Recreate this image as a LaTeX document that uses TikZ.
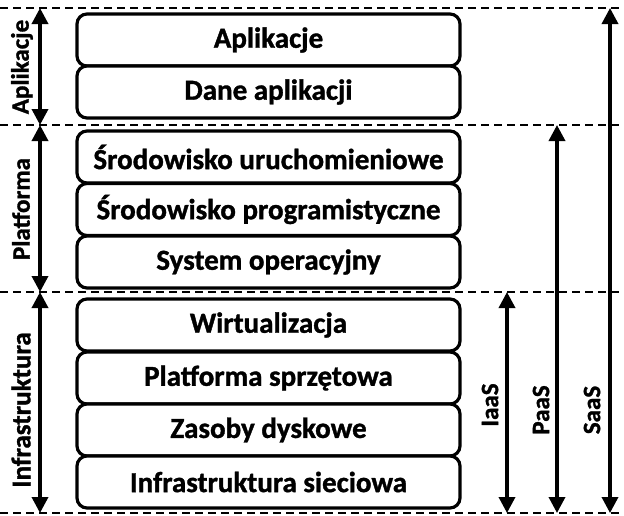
\documentclass[tikz,border=0pt]{standalone}
\usepackage{fontspec}
\setmainfont{Carlito}[BoldFeatures={FakeBold=1.2}]
\usetikzlibrary{arrows.meta}
\begin{document}
\begin{tikzpicture}[x=1pt,y=-1pt,
  layer/.style={draw=black,line width=3.2pt,rounded corners=10pt,fill=white,
    minimum width=383pt,minimum height=52pt,inner sep=0pt,
    font=\fontsize{29}{31}\selectfont\bfseries},
  sep/.style={line width=2pt,dash pattern=on 8pt off 5pt},
  span/.style={line width=3.5pt,{Triangle[length=16pt,width=16pt]}-{Triangle[length=16pt,width=16pt]}},
  tag/.style={rotate=90,font=\fontsize{27}{29}\selectfont\bfseries,inner sep=0pt},
  model/.style={rotate=90,font=\fontsize{25}{27}\selectfont\bfseries,inner sep=0pt}]
\useasboundingbox (0,0) rectangle (624,515);
% level separators
\coordinate (t0l) at (0,8);   \coordinate (t0r) at (624,8);
\coordinate (t1l) at (0,125); \coordinate (t1r) at (624,125);
\coordinate (t2l) at (0,292); \coordinate (t2r) at (624,292);
\coordinate (t3l) at (0,513); \coordinate (t3r) at (624,513);
\foreach \a/\b in {t0l/t0r,t1l/t1r,t2l/t2r,t3l/t3r} \draw[sep] (\a) -- (\b);
% stack of layers
\node[layer] (l1) at (268.5,40) {Aplikacje};
\node[layer] (l2) at (268.5,92) {Dane aplikacji};
\node[layer] (l3) at (268.5,157) {Środowisko uruchomieniowe};
\node[layer] (l4) at (268.5,209.5) {Środowisko programistyczne};
\node[layer] (l5) at (268.5,262) {System operacyjny};
\node[layer] (l6) at (268.5,325) {Wirtualizacja};
\node[layer] (l7) at (268.5,378) {Platforma sprzętowa};
\node[layer] (l8) at (268.5,430) {Zasoby dyskowe};
\node[layer] (l9) at (268.5,482) {Infrastruktura sieciowa};
% left-hand level markers
\coordinate (a0) at (40,8);   \coordinate (a1) at (40,125);
\coordinate (a2) at (40,292); \coordinate (a3) at (40,513);
\draw[span] (a0) -- (a1);
\draw[span] (a1) -- (a2);
\draw[span] (a2) -- (a3);
\node[tag,font=\fontsize{25}{27}\selectfont\bfseries] (n1) at (22,67) {Aplikacje};
\node[tag,font=\fontsize{25}{27}\selectfont\bfseries] (n2) at (21,209) {Platforma};
\node[tag] (n3) at (21,410) {Infrastruktura};
% service models on the right
\coordinate (i0) at (507,292); \coordinate (i1) at (507,513);
\coordinate (p0) at (557,125); \coordinate (p1) at (557,513);
\coordinate (s0) at (610,8);   \coordinate (s1) at (610,513);
\draw[span] (i0) -- (i1);
\draw[span] (p0) -- (p1);
\draw[span] (s0) -- (s1);
\node[model] (iaas) at (490,405) {IaaS};
\node[model] (paas) at (541,410) {PaaS};
\node[model] (saas) at (592,410) {SaaS};
\end{tikzpicture}
\end{document}
